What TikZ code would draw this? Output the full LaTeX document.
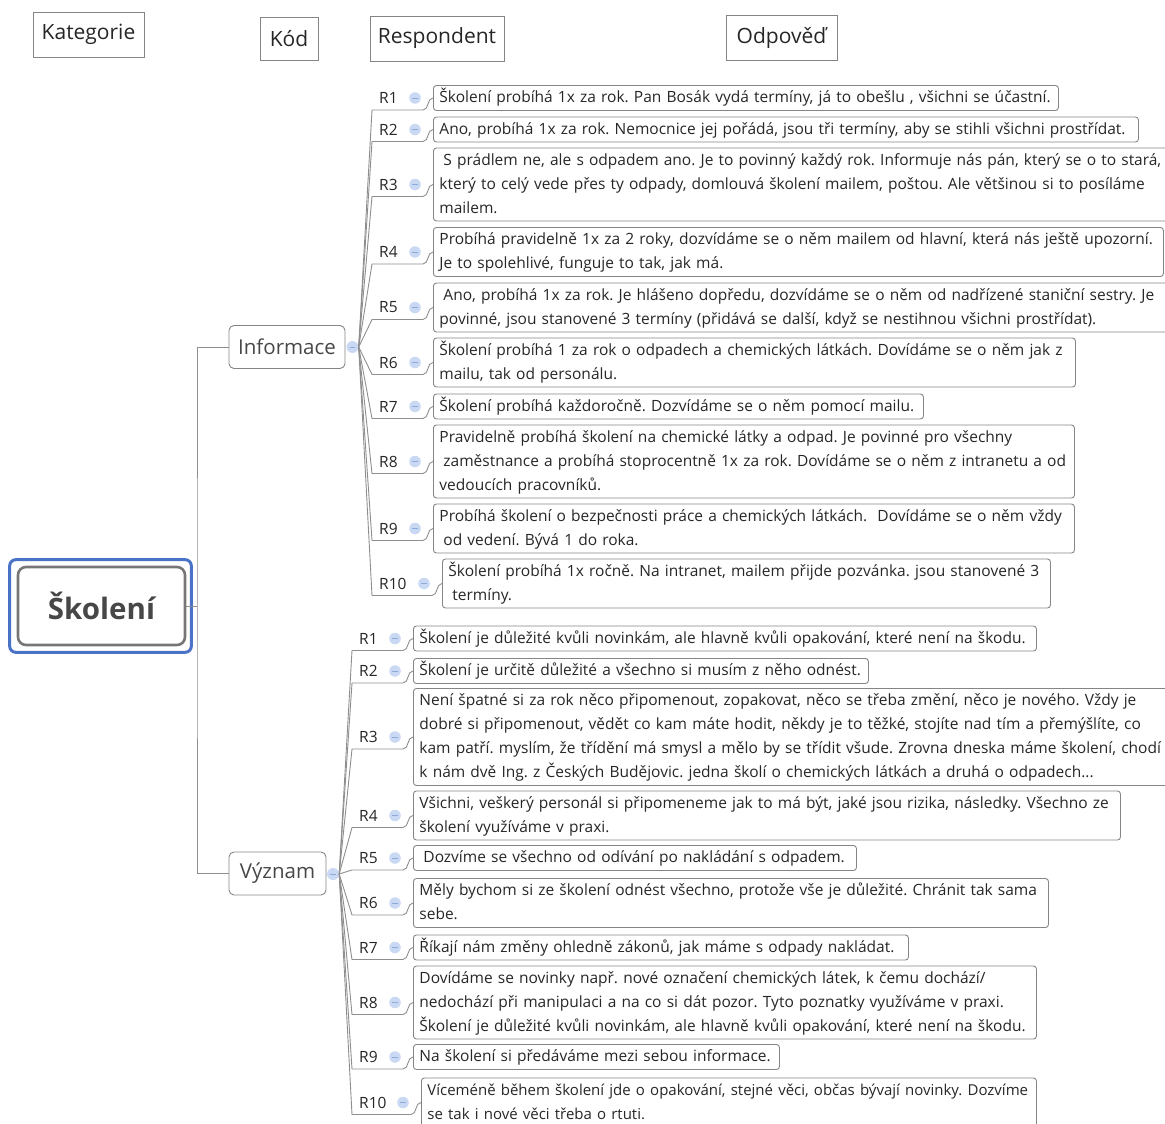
\documentclass[tikz,border=0pt]{standalone}
\usepackage{fontspec}
\setmainfont{Open Sans}
\frenchspacing
\definecolor{linecol}{HTML}{8E8E8E}
\definecolor{boxcol}{HTML}{858585}
\definecolor{txtcol}{HTML}{262626}
\definecolor{togfill}{HTML}{C9D8F3}
\definecolor{togmark}{HTML}{8FA9DB}
\definecolor{rootblue}{HTML}{4A72C6}
\definecolor{rootgray}{HTML}{767676}

% font tweak for an individual answer box (empty by default)
\def\respfont{}
% one respondent: id, label, centre y, group shift, extra shift, box width, lines, text
\newcommand\resp[8]{%
  \pgfmathsetmacro\tw{#6-12}%
  \pgfmathsetmacro\bh{24*#7+1}%
  \node[rlab, anchor=west] (l#1) at ({379+#4},#3) {#2};
  \node[tog] (t#1) at ({415+#4+#5},#3) {};
  \node[ans, minimum width=#6pt, text width=\tw pt, minimum height=\bh pt, anchor=west]
    (a#1) at ({433+#4+#5},#3) {\respfont\begin{tabular}{@{}l@{}}#8\end{tabular}};
  \coordinate (u#1) at ({372+#4},{#3+12});
  \coordinate (v#1) at ({423+#4+#5},{#3+12});
  \draw[conn] (\parentnode.east) -- (u#1) -- (v#1) to[out=0,in=180] (a#1.west);
}

\begin{document}
\begin{tikzpicture}[x=1pt,y=-1pt,
  conn/.style={draw=linecol, line width=0.9pt},
  header/.style={draw=boxcol, line width=0.9pt, inner sep=0pt, text=txtcol,
    font=\fontsize{21}{24}\selectfont},
  ans/.style={draw=boxcol, line width=0.9pt, rounded corners=3pt, inner xsep=6pt,
    inner ysep=0pt, align=left, text=txtcol, font=\fontsize{15.5}{24}\selectfont},
  rlab/.style={inner sep=0pt, text=txtcol, font=\fontsize{15.5}{18}\selectfont},
  tog/.style={circle, fill=togfill, minimum size=11.5pt, inner sep=0pt,
    path picture={\draw[togmark, line width=0.9pt]
      ([xshift=-2.6pt]path picture bounding box.center) --
      ([xshift=2.6pt]path picture bounding box.center);}},
  code/.style={draw=boxcol, line width=0.9pt, rounded corners=5pt, inner sep=0pt,
    text=txtcol!85, font=\fontsize{20.5}{24}\selectfont, minimum height=43pt}
]
\useasboundingbox (0,0) rectangle (1165,1124);
\clip (0,0) rectangle (1165,1124);

% column headings
\node[header, minimum width=111pt, minimum height=45pt] (hkat) at (88.5,34.5) {Kategorie};
\node[header, minimum width=58pt, minimum height=43pt] (hkod) at (289,38.5) {Kód};
\node[header, minimum width=134pt, minimum height=45pt] (hres) at (437,38.5) {Respondent};
\node[header, minimum width=111pt, minimum height=45pt] (hodp) at (781.5,37.5) {Odpověď};

% central topic
\node[draw=rootgray, line width=2.6pt, rounded corners=8pt, minimum width=167pt,
  minimum height=78pt, text=txtcol!85, font=\fontsize{29.5}{32}\selectfont\bfseries]
  (root) at (101.5,606) {Školení};
\draw[rootblue, line width=3pt, rounded corners=6pt]
  ([shift={(-7,-6)}]root.north west) rectangle ([shift={(5,6)}]root.south east);

% codes
\node[code, minimum width=116pt] (info) at (287,347) {Informace};
\node[code, minimum width=97pt] (vyz) at (277.5,873.5) {Význam};
\node[tog, minimum size=12pt] (ci) at (352.5,347) {};
\node[tog, minimum size=12pt] (cv) at (333,874) {};
\coordinate (rootout) at (197,606);
\draw[conn] (root.east) -- (rootout);
\draw[conn] (info.west) -| (rootout) |- (vyz.west);

% Informace
\def\parentnode{ci}
\resp{i1}{R1}{98}{0}{0}{625}{1}{Školení probíhá 1x za rok. Pan Bosák vydá termíny, já to obešlu , všichni se účastní.}
\resp{i2}{R2}{129.5}{0}{0}{705}{1}{Ano, probíhá 1x za rok. Nemocnice jej pořádá, jsou tři termíny, aby se stihli všichni prostřídat.}
\resp{i3}{R3}{184.5}{0}{0}{760}{3}{\hspace*{4pt}S prádlem ne, ale s odpadem ano. Je to povinný každý rok. Informuje nás pán, který se o to stará,\\který to celý vede přes ty odpady, domlouvá školení mailem, poštou. Ale většinou si to posíláme\\mailem.}
\resp{i4}{R4}{252}{0}{0}{730}{2}{Probíhá pravidelně 1x za 2 roky, dozvídáme se o něm mailem od hlavní, která nás ještě upozorní.\\Je to spolehlivé, funguje to tak, jak má.}
\resp{i5}{R5}{307.5}{0}{0}{760}{2}{\hspace*{4pt}Ano, probíhá 1x za rok. Je hlášeno dopředu, dozvídáme se o něm od nadřízené staniční sestry. Je\\povinné, jsou stanovené 3 termíny (přidává se další, když se nestihnou všichni prostřídat).}
\resp{i6}{R6}{362.5}{0}{0}{642}{2}{Školení probíhá 1 za rok o odpadech a chemických látkách. Dovídáme se o něm jak z\\mailu, tak od personálu.}
\resp{i7}{R7}{406.5}{0}{0}{490}{1}{Školení probíhá každoročně. Dozvídáme se o něm pomocí mailu.}
\resp{i8}{R8}{461.5}{0}{0}{641}{3}{Pravidelně probíhá školení na chemické látky a odpad. Je povinné pro všechny\\\hspace*{4pt}zaměstnance a probíhá stoprocentně 1x za rok. Dovídáme se o něm z intranetu a od\\vedoucích pracovníků.}
\resp{i9}{R9}{528.5}{0}{0}{641}{2}{Probíhá školení o bezpečnosti práce a chemických látkách.\ \ Dovídáme se o něm vždy\\\hspace*{4pt}od vedení. Bývá 1 do roka.}
\resp{i10}{R10}{583.5}{0}{9}{608}{2}{Školení probíhá 1x ročně. Na intranet, mailem přijde pozvánka. jsou stanovené 3\\\hspace*{4pt}termíny.}

% Význam
\def\parentnode{cv}
\resp{v1}{R1}{638.5}{-20}{0}{623}{1}{Školení je důležité kvůli novinkám, ale hlavně kvůli opakování, které není na škodu.}
\resp{v2}{R2}{671}{-20}{0}{455}{1}{Školení je určitě důležité a všechno si musím z něho odnést.}
\resp{v3}{R3}{737}{-20}{0}{770}{4}{Není špatné si za rok něco připomenout, zopakovat, něco se třeba změní, něco je nového. Vždy je\\dobré si připomenout, vědět co kam máte hodit, někdy je to těžké, stojíte nad tím a přemýšlíte, co\\kam patří. myslím, že třídění má smysl a mělo by se třídit všude. Zrovna dneska máme školení, chodí\\k nám dvě Ing. z Českých Budějovic. jedna školí o chemických látkách a druhá o odpadech...}
\resp{v4}{R4}{815.5}{-20}{0}{707}{2}{Všichni, veškerý personál si připomeneme jak to má být, jaké jsou rizika, následky. Všechno ze\\školení využíváme v praxi.}
\resp{v5}{R5}{858}{-20}{0}{443}{1}{\hspace*{4pt}Dozvíme se všechno od odívání po nakládání s odpadem.}
\resp{v6}{R6}{903}{-20}{0}{635}{2}{Měly bychom si ze školení odnést všechno, protože vše je důležité. Chránit tak sama\\sebe.}
\resp{v7}{R7}{947.5}{-20}{0}{495}{1}{Říkají nám změny ohledně zákonů, jak máme s odpady nakládat.}
\resp{v8}{R8}{1002.5}{-20}{0}{623}{3}{Dovídáme se novinky např. nové označení chemických látek, k čemu dochází/\\nedochází při manipulaci a na co si dát pozor. Tyto poznatky využíváme v praxi.\\Školení je důležité kvůli novinkám, ale hlavně kvůli opakování, které není na škodu.}
\resp{v9}{R9}{1057}{-20}{0}{366}{1}{Na školení si předáváme mezi sebou informace.}
\def\respfont{\fontsize{15}{24}\selectfont}
\resp{v10}{R10}{1102.5}{-20}{8}{615}{2}{Víceméně během školení jde o opakování, stejné věci, občas bývají novinky. Dozvíme\\se tak i nové věci třeba o rtuti.}
\end{tikzpicture}
\end{document}
